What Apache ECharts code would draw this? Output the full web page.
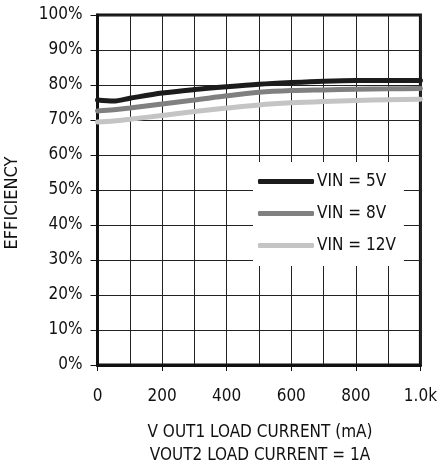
<!DOCTYPE html>
<html><head><meta charset="utf-8">
<script src="https://cdn.jsdelivr.net/npm/echarts@6/dist/echarts.min.js"></script>
<style>html,body{margin:0;padding:0;background:#fff}#c{width:440px;height:468px}</style>
</head><body><div id="c"></div>
<script>
const loadCurrent = [0, 50, 100, 200, 300, 400, 500, 600, 700, 800, 900, 1000];
const vin5  = [75.7, 75.4, 76.2, 77.7, 78.7, 79.5, 80.2, 80.7, 81.1, 81.3, 81.3, 81.3];
const vin8  = [72.6, 72.9, 73.4, 74.6, 75.7, 76.9, 77.9, 78.4, 78.6, 78.8, 78.9, 79.0];
const vin12 = [69.4, 69.7, 70.2, 71.3, 72.4, 73.4, 74.3, 74.9, 75.3, 75.6, 75.8, 75.9];
const seriesNames = ['VIN = 5V', 'VIN = 8V', 'VIN = 12V'];
const seriesColors = ['#1c1c1c', '#808080', '#c4c4c4'];
const xTitle = ['V OUT1 LOAD CURRENT (mA)', 'VOUT2 LOAD CURRENT = 1A'];
const yTitle = 'EFFICIENCY';

const FONT = '"Liberation Sans Narrow", "DejaVu Sans Condensed", "DejaVu Sans", sans-serif';
const pair = (arr) => loadCurrent.map((x, i) => [x, arr[i]]);
const chart = echarts.init(document.getElementById('c'));
const mk = (name, data, color) => ({
  name, type: 'line', data: pair(data), smooth: 0.3, showSymbol: false, symbol: 'none',
  lineStyle: { color, width: 5, cap: 'round' }, itemStyle: { color }, z: 3
});
chart.setOption({
  animation: false,
  grid: { left: 97.5, right: 18, top: 15, bottom: 103, show: true, borderColor: '#111', borderWidth: 3, backgroundColor: 'transparent' },
  xAxis: {
    type: 'value', min: 0, max: 1000, interval: 200,
    axisLine: { show: true, onZero: false, lineStyle: { color: '#111', width: 3 } },
    axisTick: { show: true, length: 6, inside: false, lineStyle: { color: '#111', width: 1 } },
    axisLabel: { margin: 23, fontFamily: FONT, fontSize: 17, color: '#111',
      formatter: v => v === 1000 ? '1.0k' : String(v) },
    splitLine: { show: true, lineStyle: { color: '#222', width: 1 } },
    minorTick: { show: false, splitNumber: 2 },
    minorSplitLine: { show: true, lineStyle: { color: '#222', width: 1 } }
  },
  yAxis: {
    type: 'value', min: 0, max: 100, interval: 10,
    axisLine: { show: true, lineStyle: { color: '#111', width: 3 } },
    axisTick: { show: true, length: 7, lineStyle: { color: '#111', width: 1 } },
    axisLabel: { margin: 15, fontFamily: FONT, fontSize: 17, color: '#111', formatter: v => v + '%' },
    splitLine: { show: true, lineStyle: { color: '#222', width: 1 } }
  },
  legend: {
    show: true, orient: 'vertical', left: 253, top: 162,
    backgroundColor: '#fff', padding: [11, 8, 12, 5],
    itemWidth: 56, itemHeight: 5, itemGap: 15, icon: 'roundRect',
    textStyle: { fontFamily: FONT, fontSize: 17, color: '#111', padding: [0, 0, 0, -2] },
    data: seriesNames
  },
  series: [
    mk(seriesNames[0], vin5, seriesColors[0]),
    mk(seriesNames[1], vin8, seriesColors[1]),
    mk(seriesNames[2], vin12, seriesColors[2])
  ],
  graphic: [
    { type: 'text', x: 12, y: 203, rotation: Math.PI / 2,
      style: { text: yTitle, font: '18px ' + FONT, fill: '#111', textAlign: 'center', textVerticalAlign: 'middle' } },
    { type: 'text', x: 260, y: 433, style: { text: xTitle[0], font: '17px ' + FONT, fill: '#111', textAlign: 'center', textVerticalAlign: 'middle' } },
    { type: 'text', x: 260, y: 456, style: { text: xTitle[1], font: '17px ' + FONT, fill: '#111', textAlign: 'center', textVerticalAlign: 'middle' } }
  ]
});
</script></body></html>
